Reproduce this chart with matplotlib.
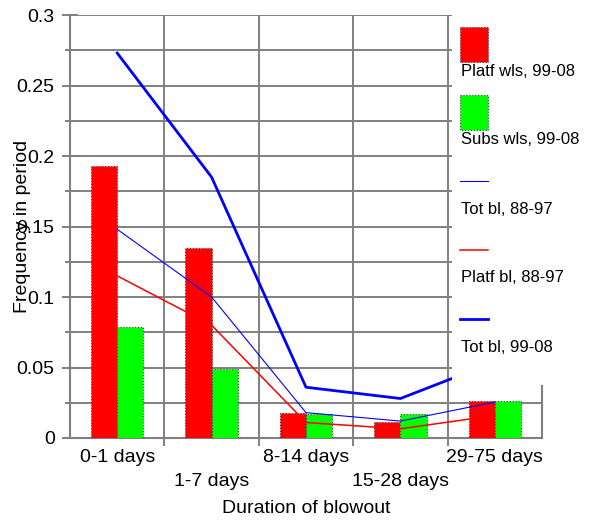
import numpy as np
import matplotlib
matplotlib.use('Agg')
import matplotlib.pyplot as plt
from matplotlib.patches import Rectangle
from matplotlib.transforms import blended_transform_factory

plt.rcParams['font.family'] = ['Liberation Sans', 'DejaVu Sans']

# data
categories = ['0-1 days', '1-7 days', '8-14 days', '15-28 days', '29-75 days']
platf_wls_9908 = [0.193, 0.135, 0.018, 0.011, 0.026]
subs_wls_9908 = [0.079, 0.049, 0.017, 0.017, 0.026]
tot_bl_8897 = [0.148, 0.100, 0.018, 0.012, 0.0255]
platf_bl_8897 = [0.115, 0.080, 0.011, 0.0065, 0.016]
tot_bl_9908 = [0.273, 0.185, 0.036, 0.028, 0.054]

legend_labels = ['Platf wls, 99-08', 'Subs wls, 99-08', 'Tot bl, 88-97',
                 'Platf bl, 88-97', 'Tot bl, 99-08']

grid_col = '#808080'
x = np.arange(len(categories))
w = 0.277

fig = plt.figure(figsize=(5.9, 5.23), dpi=100)
ax = fig.add_axes([70/590, 1-438/523, 472/590, 423/523])

ax.bar(x - w/2, platf_wls_9908, w, color='#ff0000', edgecolor='#444444',
       linewidth=0.8, linestyle=':', zorder=3)
ax.bar(x + w/2, subs_wls_9908, w, color='#00ff00', edgecolor='#444444',
       linewidth=0.8, linestyle=':', zorder=3)
ax.plot(x, tot_bl_8897, color='#0000ff', lw=0.8, zorder=4)
ax.plot(x, platf_bl_8897, color='#ff0000', lw=1.1, zorder=4)
ax.plot(x, tot_bl_9908, color='#0000ff', lw=2.0, zorder=4)

ax.set_xlim(-0.5, 4.5)
ax.set_ylim(0, 0.3)
ax.set_yticks(np.arange(0, 0.301, 0.05))
ax.set_yticklabels(['0', '0.05', '0.1', '0.15', '0.2', '0.25', '0.3'])
ax.set_yticks(np.arange(0.025, 0.3, 0.05), minor=True)
ax.set_xticks(np.arange(0.5, 4, 1))
ax.set_xticklabels([])
ax.grid(True, which='both', axis='y', color=grid_col, lw=1.4, zorder=0)
ax.grid(True, which='major', axis='x', color=grid_col, lw=1.4, zorder=0)
ax.set_axisbelow(True)
ax.tick_params(axis='y', which='major', direction='inout', length=11,
               width=1.4, color=grid_col, labelsize=14, pad=5.5)
ax.tick_params(axis='y', which='minor', direction='inout', length=6.5,
               width=1.4, color=grid_col)
ax.tick_params(axis='x', direction='out', length=6, width=1.4, color=grid_col)
ax.spines['top'].set_visible(False)
for s in ['left', 'bottom', 'right']:
    ax.spines[s].set_color(grid_col)
    ax.spines[s].set_linewidth(1.5)

# staggered category labels
tr = blended_transform_factory(ax.transData, ax.transAxes)
for i, c in enumerate(categories):
    yy = -0.045 if i % 2 == 0 else -0.104
    ax.text(i, yy, c, transform=tr, ha='center', va='center', fontsize=14)
ax.text(0.5, -0.166, 'Duration of blowout', transform=ax.transAxes,
        ha='center', va='center', fontsize=14)
ax.text(-0.1, 0.5, 'Frequency in period', transform=ax.transAxes,
        ha='center', va='center', rotation=90, fontsize=14)

# legend panel sitting over the right side of the plot
lg = fig.add_axes([452/590, 1-385/523, 138/590, 385/523])
lg.set_xlim(452, 590)
lg.set_ylim(385, 0)
lg.set_xticks([])
lg.set_yticks([])
for s in lg.spines.values():
    s.set_visible(False)
lg.set_facecolor('white')

lg.add_patch(Rectangle((460, 27), 28, 35, facecolor='#ff0000',
                       edgecolor='#444444', lw=0.8, ls=':'))
lg.add_patch(Rectangle((460, 95), 28, 35, facecolor='#00ff00',
                       edgecolor='#444444', lw=0.8, ls=':'))
lg.plot([460, 488], [181, 181], color='#0000ff', lw=0.8)
lg.plot([460, 488], [250, 250], color='#ff0000', lw=1.1)
lg.plot([460, 488], [319, 319], color='#0000ff', lw=2.0)
for lab, yy in zip(legend_labels, [71, 140, 210, 278, 347]):
    lg.text(461, yy, lab, ha='left', va='center', fontsize=12)

fig.savefig('out.png', dpi=100)
